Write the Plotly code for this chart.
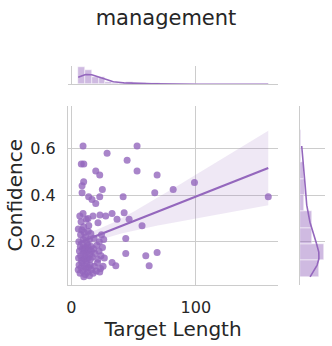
import numpy as np
import plotly.graph_objects as go

# values (seaborn jointplot, kind="reg")
target_length = [
    # spread-out points
    9.4, 28.7, 52.8, 8.0, 10.0, 44.8, 19.6, 22.8, 52.8, 68.9,
    9.9, 8.6, 24.9, 8.6, 13.9, 16.6, 22.8, 19.6, 41.6, 67.0,
    81.8, 98.9, 158.2, 9.4, 32.7, 27.6, 17.4, 42.4, 36.7, 46.4,
    7.8, 12.0, 9.9, 21.4, 56.8, 43.7, 43.7, 59.8, 68.9, 62.5,
    35.7, 32.7, 22.8,
    # dense cluster, low confidence
    5.5, 6.2, 7.0, 7.8, 8.5, 9.2, 10.0, 10.5, 11.2, 11.8,
    12.5, 13.0, 13.8, 14.5, 15.2, 16.0, 17.5, 18.5, 20.0, 21.0,
    23.5, 25.5,
    5.8, 6.5, 7.2, 7.5, 8.2, 8.8, 9.5, 9.8, 10.3, 10.6,
    11.0, 11.5, 12.0, 12.4, 13.2, 13.5, 14.2, 14.8, 15.3, 15.8,
    16.1, 16.8, 17.8, 19.0, 20.5, 21.3, 22.2, 23.8, 25.0, 26.5,
    6.0, 7.4, 8.4, 9.6, 10.4, 11.4, 12.6, 13.6, 14.6, 15.6,
    18.2, 22.5, 24.2, 26.0, 5.6,
    13.4, 14.0, 23.0, 6.8,
]
confidence = [
    0.610, 0.579, 0.610, 0.533, 0.533, 0.549, 0.503, 0.486, 0.503, 0.486,
    0.457, 0.440, 0.424, 0.410, 0.393, 0.381, 0.393, 0.364, 0.393, 0.410,
    0.424, 0.454, 0.393, 0.321, 0.321, 0.310, 0.310, 0.324, 0.296, 0.296,
    0.286, 0.296, 0.264, 0.281, 0.269, 0.214, 0.150, 0.140, 0.154, 0.097,
    0.097, 0.111, 0.071,
    0.080, 0.100, 0.065, 0.090, 0.110, 0.075, 0.050, 0.095, 0.060, 0.085,
    0.105, 0.070, 0.090, 0.055, 0.100, 0.080, 0.065, 0.095, 0.075, 0.110,
    0.085, 0.095,
    0.130, 0.160, 0.180, 0.140, 0.120, 0.170, 0.150, 0.185, 0.125, 0.165,
    0.140, 0.175, 0.120, 0.155, 0.185, 0.130, 0.165, 0.145, 0.125, 0.180,
    0.160, 0.135, 0.170, 0.150, 0.185, 0.125, 0.160, 0.140, 0.175, 0.130,
    0.200, 0.230, 0.250, 0.210, 0.240, 0.220, 0.195, 0.245, 0.210, 0.235,
    0.215, 0.200, 0.230, 0.210, 0.255,
    0.300, 0.270, 0.315, 0.310,
]
x_ticks = [0, 100]
y_ticks = [0.2, 0.4, 0.6]
x_nbins = 28
y_nbins = 8

PURPLE = "#9467bd"
GRID = "#cccccc"
TEXT = "#262626"
FONT = "DejaVu Sans"

x = np.array(target_length)
y = np.array(confidence)
n = len(x)


def kde_curve(v, edges, num=200):
    # gaussian kde, scott bandwidth, cut=0, scaled to counts like histplot
    bw = v.std(ddof=1) * n ** (-1 / 5)
    grid = np.linspace(v.min(), v.max(), num)
    dens = np.exp(-0.5 * ((grid[:, None] - v[None, :]) / bw) ** 2).sum(1)
    dens /= n * bw * np.sqrt(2 * np.pi)
    return grid, dens * n * (edges[1] - edges[0])


x_edges = np.histogram_bin_edges(x, bins=x_nbins)
y_edges = np.histogram_bin_edges(y, bins=y_nbins)
x_counts, _ = np.histogram(x, x_edges)
y_counts, _ = np.histogram(y, y_edges)
kx, kxd = kde_curve(x, x_edges)
ky, kyd = kde_curve(y, y_edges)

# regression line + 95% band
b1, b0 = np.polyfit(x, y, 1)
xs = np.linspace(x.min(), x.max(), 100)
fit = b0 + b1 * xs
resid = y - (b0 + b1 * x)
s = np.sqrt((resid ** 2).sum() / (n - 2))
se = s * np.sqrt(1 / n + (xs - x.mean()) ** 2 / ((x - x.mean()) ** 2).sum())
lo, hi = fit - 1.98 * se, fit + 1.98 * se

fig = go.Figure()

# main panel
fig.add_trace(go.Scatter(
    x=np.concatenate([xs, xs[::-1]]), y=np.concatenate([hi, lo[::-1]]),
    fill="toself", fillcolor="rgba(148,103,189,0.15)", line=dict(width=0),
    hoverinfo="skip", xaxis="x", yaxis="y",
))
fig.add_trace(go.Scatter(
    x=x, y=y, mode="markers", xaxis="x", yaxis="y",
    marker=dict(color=PURPLE, size=7, opacity=0.8, line=dict(width=0)),
))
fig.add_trace(go.Scatter(
    x=xs, y=fit, mode="lines", xaxis="x", yaxis="y",
    line=dict(color=PURPLE, width=2.2),
))

# top marginal
fig.add_trace(go.Histogram(
    x=x, xaxis="x2", yaxis="y2",
    xbins=dict(start=x_edges[0], end=x_edges[-1] + 1e-6, size=x_edges[1] - x_edges[0]),
    marker=dict(color="rgba(148,103,189,0.45)", line=dict(color="white", width=0.5)),
))
fig.add_trace(go.Scatter(x=kx, y=kxd, mode="lines", xaxis="x2", yaxis="y2",
                         line=dict(color=PURPLE, width=1.6)))

# right marginal
fig.add_trace(go.Histogram(
    y=y, xaxis="x3", yaxis="y3",
    ybins=dict(start=y_edges[0], end=y_edges[-1] + 1e-6, size=y_edges[1] - y_edges[0]),
    marker=dict(color="rgba(148,103,189,0.45)", line=dict(color="white", width=0.5)),
))
fig.add_trace(go.Scatter(x=kyd, y=ky, mode="lines", xaxis="x3", yaxis="y3",
                         line=dict(color=PURPLE, width=1.6)))

x_range = [-2.7, 166]
y_range = [0.017, 0.781]
main_x = [0.2048, 0.8373]
main_y = [0.1777, 0.6936]

fig.update_layout(
    width=332, height=346,
    margin=dict(l=0, r=0, t=0, b=0),
    paper_bgcolor="white", plot_bgcolor="white",
    showlegend=False,
    bargap=0,
    font=dict(family=FONT, color=TEXT),
    title=dict(text="management", x=0.5, xanchor="center", y=0.948, yanchor="middle",
               font=dict(size=21, family=FONT, color=TEXT)),
    xaxis=dict(domain=main_x, range=x_range, tickvals=x_ticks, showgrid=True,
               gridcolor=GRID, showline=True, linecolor=GRID, zeroline=False,
               ticks="", ticklabelstandoff=8, tickfont=dict(size=16),
               title=dict(text="Target Length", font=dict(size=20), standoff=4),
               automargin=False),
    yaxis=dict(domain=main_y, range=y_range, tickvals=y_ticks, showgrid=True,
               gridcolor=GRID, showline=True, linecolor=GRID, zeroline=False,
               ticks="", ticklabelstandoff=8, tickfont=dict(size=16),
               title=dict(text="Confidence", font=dict(size=20), standoff=2),
               automargin=False),
    xaxis2=dict(domain=main_x, range=x_range, tickvals=x_ticks, showgrid=True,
                gridcolor=GRID, showline=True, linecolor=GRID, zeroline=False,
                showticklabels=False, anchor="y2"),
    yaxis2=dict(domain=[0.7558, 0.8092],
                range=[0, 1.05 * max(x_counts.max(), kxd.max())],
                showgrid=False, showline=False, zeroline=False,
                showticklabels=False, anchor="x2"),
    xaxis3=dict(domain=[0.9036, 0.9789],
                range=[0, 1.05 * max(y_counts.max(), kyd.max())],
                showgrid=False, showline=False, zeroline=False,
                showticklabels=False, anchor="y3"),
    yaxis3=dict(domain=main_y, range=y_range, tickvals=y_ticks, showgrid=True,
                gridcolor=GRID, showline=True, linecolor=GRID, zeroline=False,
                showticklabels=False, anchor="x3"),
)

# page body has an 8px default margin; drop it so the figure fills the window
fig.write_html("out.html", config={"displayModeBar": False},
               post_script="document.body.style.margin='0';")
